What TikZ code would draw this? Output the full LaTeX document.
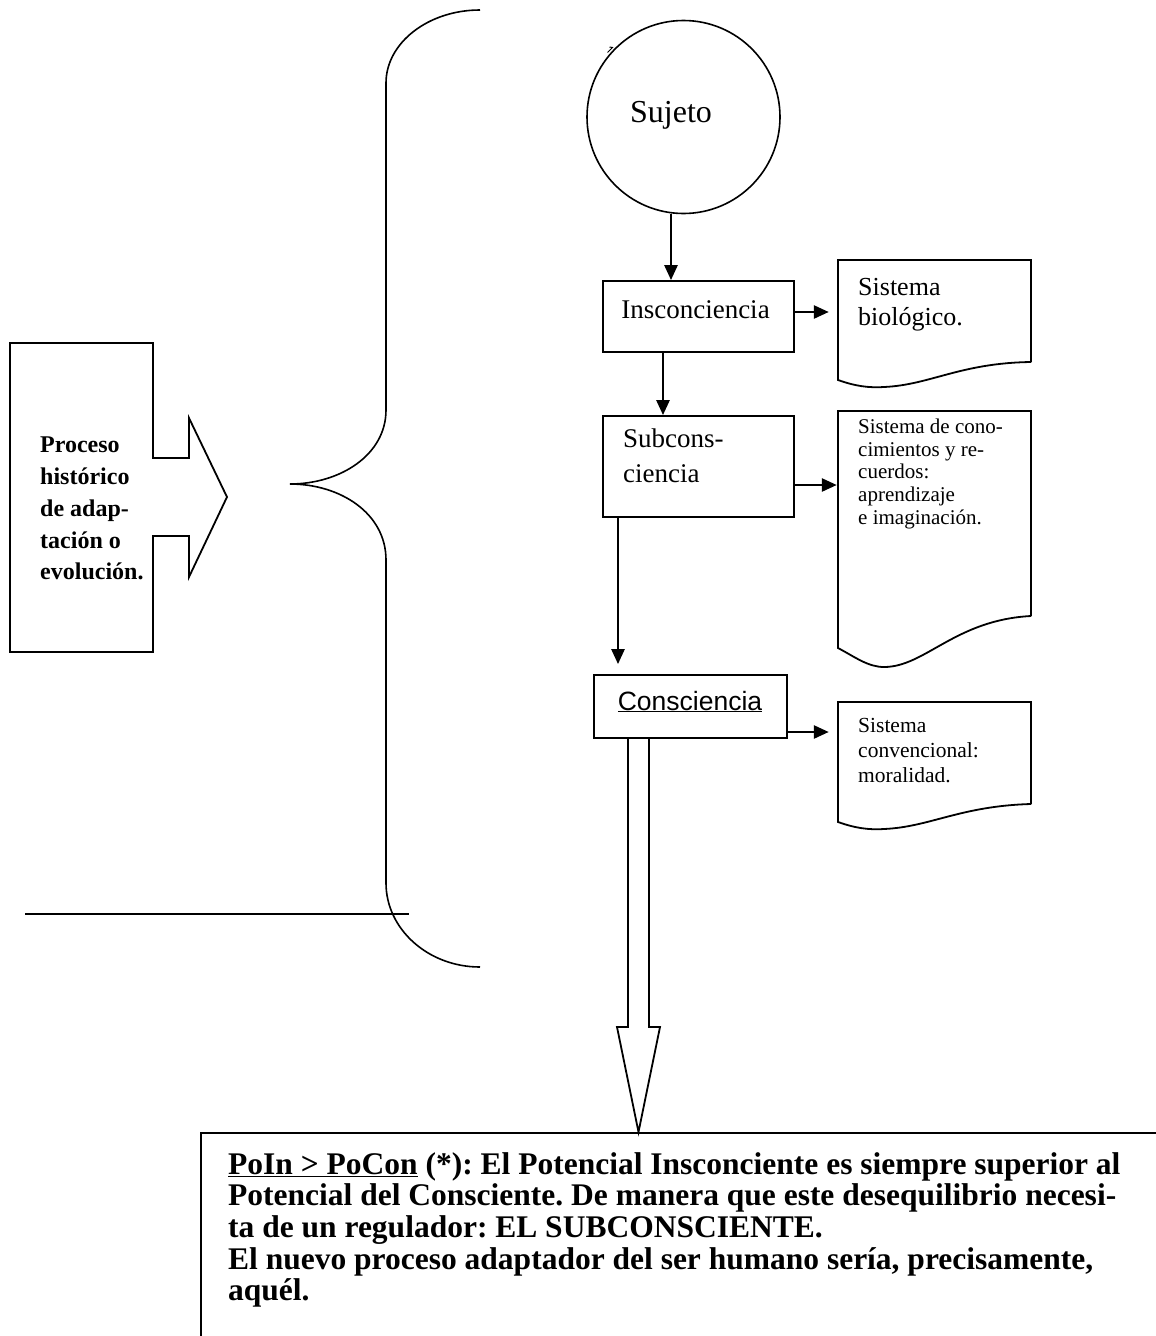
\documentclass[tikz,border=0pt]{standalone}
\usepackage{fontspec}
\setmainfont{Liberation Serif}
\setsansfont{Liberation Sans}
\usetikzlibrary{arrows.meta,calc}
\frenchspacing
\begin{document}
\begin{tikzpicture}[x=1pt,y=-1pt,
  stroke/.style={line width=1.8pt},
  boxsty/.style={draw, line width=1.8pt, rectangle, inner sep=0pt},
  arr/.style={line width=2.6pt, -{Triangle[length=15pt,width=13pt]}},
  lbl/.style={inner sep=0pt, anchor=north west, align=left},
  ghost/.style={rectangle, inner sep=0pt}]

\clip (0,0) rectangle (1156,1336);
\fill[white] (0,0) rectangle (1156,1336);

% brace and horizontal line
\draw[line width=1.6pt] (480,10) .. controls (428,10) and (386,43) .. (386,83) -- (386,410)
  .. controls (386,455) and (340,484) .. (290,484)
  .. controls (340,484) and (386,513) .. (386,560) -- (386,883)
  .. controls (386,929) and (428,967) .. (480,967);
\draw[stroke] (25,914) -- (409,914);

% left block arrow
\draw[stroke, line join=miter] (10,343) -- (153,343) -- (153,458) -- (189,458) -- (189,418) -- (227,497)
  -- (189,577) -- (189,536) -- (153,536) -- (153,652) -- (10,652) -- cycle;
\node[lbl, font=\bfseries\fontsize{24}{31.7}\selectfont] (proctxt) at (40,437)
  {Proceso\\histórico\\de adap-\\tación o\\evolución.};

% subject circle
\node[circle, draw, line width=1.6pt, minimum size=193pt, inner sep=0pt] (sujeto) at (683.5,117) {};
\node[inner sep=0pt, font=\fontsize{32}{38}\selectfont] (sujetotxt) at (671,115) {Sujeto};
\draw[line width=1pt] (607.5,52.5) -- (612.5,47.5) -- (609.5,47);

% boxes
\node[boxsty, minimum width=191pt, minimum height=71pt] (ins) at (698.5,316.5) {};
\node[inner sep=0pt, font=\fontsize{27}{32}\selectfont] (instxt) at (695.5,309.5) {Insconciencia};

\node[boxsty, minimum width=191pt, minimum height=101pt] (sub) at (698.5,466.5) {};
\node[lbl, font=\fontsize{27}{35}\selectfont] (subtxt) at (623,428.5) {Subcons-\\ciencia};

\node[boxsty, minimum width=193pt, minimum height=63pt] (cons) at (690.5,706.5) {};
\node[inner sep=0pt, anchor=base, font=\sffamily\fontsize{26.5}{30}\selectfont] (constxt) at (690,710) {\underline{Consciencia}};

% documents
\node[ghost, minimum width=193pt, minimum height=102pt] (doc1) at (934.5,311) {};
\draw[stroke] (1031,362) -- (1031,260) -- (838,260) -- (838,380)
  .. controls (855,386) and (868,388) .. (884,387)
  .. controls (930,385) and (960,363) .. (1031,362);
\node[lbl, font=\fontsize{26}{30}\selectfont] (doc1txt) at (858,278) {Sistema\\biológico.};

\node[ghost, minimum width=193pt, minimum height=205pt] (doc2) at (934.5,513.5) {};
\draw[stroke] (1031,616) -- (1031,411) -- (838,411) -- (838,648)
  .. controls (855,657) and (868,667) .. (884,667)
  .. controls (925,667) and (955,620) .. (1031,616);
\node[lbl, font=\fontsize{21}{22.7}\selectfont] (doc2txt) at (858,418.6)
  {Sistema de cono-\\cimientos y re-\\cuerdos:\\aprendizaje\\e imaginación.};

\node[ghost, minimum width=193pt, minimum height=102pt] (doc3) at (934.5,753) {};
\draw[stroke] (1031,804) -- (1031,702) -- (838,702) -- (838,822)
  .. controls (855,828) and (868,830) .. (884,829)
  .. controls (930,827) and (960,806) .. (1031,804);
\node[lbl, font=\fontsize{21.5}{25}\selectfont] (doc3txt) at (858,718.4)
  {Sistema\\convencional:\\moralidad.};

% connectors
\draw[arr] (sujeto.south -| 671,0) -- (ins.north -| 671,0);
\draw[arr] (ins.south -| 663,0) -- (sub.north -| 663,0);
\draw[arr, shorten >=10pt] (sub.south -| 618,0) -- (cons.north -| 618,0);
\draw[arr, shorten >=9pt] (ins.east |- 0,312) -- (doc1.west |- 0,312);
\draw[arr, shorten >=1pt] (sub.east |- 0,485) -- (doc2.west |- 0,485);
\draw[arr, shorten >=9pt] (cons.east |- 0,732) -- (doc3.west |- 0,732);

% bottom note and hollow arrow
\node[draw, line width=1.8pt, anchor=north west, minimum width=1000pt, minimum height=300pt, inner sep=0pt] (note) at (200,1132) {};
\draw[stroke, line join=miter] (cons.south -| 628,0) -- (628,1027) -- (617,1027) -- (note.north -| 638.5,0)
  -- (660,1027) -- (649,1027) -- (cons.south -| 649,0);
\node[lbl, font=\bfseries\fontsize{31.5}{31.7}\selectfont] (notetxt) at (228,1152)
  {\underline{PoIn > PoCon} (*): El Potencial Insconciente es siempre superior al\\
   Potencial del Consciente. De manera que este desequilibrio necesi-\\
   ta de un regulador: EL SUBCONSCIENTE.\\
   El nuevo proceso adaptador del ser humano sería, precisamente,\\
   aquél.};
\end{tikzpicture}
\end{document}
